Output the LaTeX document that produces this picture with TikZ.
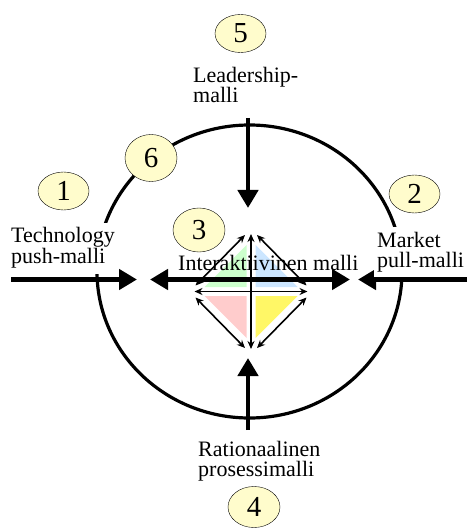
\documentclass[tikz,border=0pt]{standalone}
\usepackage{fontspec}
\setmainfont{Liberation Serif}
\usetikzlibrary{arrows.meta, calc, shapes.geometric}
\definecolor{vsin}{HTML}{CCE6FF}

\begin{document}
\begin{tikzpicture}[x=1pt, y=-1pt, every node/.style={font=\fontsize{22}{20}\selectfont},
    nro/.style={ellipse, draw, thin, fill=yellow!20, minimum width=51pt, minimum height=38pt, inner sep=0pt, font=\fontsize{29}{29}\selectfont},
    teksti/.style={align=left, anchor=north west, fill=white, inner xsep=3pt, inner ysep=5pt},
    iso/.style={-{Triangle[length=18pt, width=20pt]}, line width=4.5pt},
    iso2/.style={{Triangle[length=18pt, width=20pt]}-{Triangle[length=18pt, width=20pt]}, line width=4.5pt},
    ohut/.style={{Stealth[length=8pt, width=7pt]}-{Stealth[length=8pt, width=7pt]}, line width=1.6pt}]
                \useasboundingbox (0,0) rectangle (467,529);
                % Keskus
                \coordinate (c) at (251,291.5);
                \coordinate (dt) at (251,234);
                \coordinate (db) at (251,349);
                \coordinate (dl) at (194.5,291.5);
                \coordinate (dr) at (307.5,291.5);
                % Kolmiot
                \fill[green!20] ($(c)+(-4.5,-4.5)$) -- ++(0,-42) -- ++(-42,42) -- cycle;
                \fill[vsin] ($(c)+(4.5,-4.5)$) -- ++(0,-42) -- ++(42,42) -- cycle;
                \fill[red!20] ($(c)+(-4.5,4.5)$) -- ++(0,42) -- ++(-42,-42) -- cycle;
                \fill[yellow!60] ($(c)+(4.5,4.5)$) -- ++(0,42) -- ++(42,-42) -- cycle;
                % Kehä
                \node[ellipse, draw, line width=3.2pt, minimum width=305pt, minimum height=293pt, inner sep=0pt] (kehys) at (249.5,271.5) {};
                % Ohuet nuolet
                \draw[ohut] (dt) -- (db);
                \draw[ohut] (dl) -- (dr);
                \draw[ohut] ($(dl)+(1,-6)$) -- ($(dt)+(-6,1)$);
                \draw[ohut] ($(dt)+(6,1)$) -- ($(dr)+(-1,-6)$);
                \draw[ohut] ($(dl)+(1,6)$) -- ($(db)+(-6,-1)$);
                \draw[ohut] ($(db)+(6,-1)$) -- ($(dr)+(-1,6)$);
                % Paksut nuolet
                \coordinate (t1) at (248,118);
                \coordinate (t2) at (248,208);
                \coordinate (b1) at (248,430);
                \coordinate (b2) at (248,358);
                \coordinate (l1) at (11,279.5);
                \coordinate (l2) at (137,279.5);
                \coordinate (r1) at (467,279.5);
                \coordinate (r2) at (358,279.5);
                \coordinate (m1) at (150,279.5);
                \coordinate (m2) at (350,279.5);
                \draw[iso] (t1) -- (t2);
                \draw[iso] (b1) -- (b2);
                \draw[iso] (l1) -- (l2);
                \draw[iso] (r1) -- (r2);
                \draw[iso2] (m1) -- (m2);
                % Tekstit
                \node[teksti] (lead) at (190,62.5) {Leadership-\\malli};
                \node[teksti] (tech) at (8,222.5) {Technology\\push-malli};
                \node[teksti] (mark) at (374,227) {Market\\pull-malli};
                \node[teksti] (rat) at (195,436) {Rationaalinen\\prosessimalli};
                \node[anchor=base west, inner sep=0pt] (inter) at (178,270) {Interaktiivinen malli};
                % Numerot
                \node[nro] (n5) at (240.5,33.5) {5};
                \node[nro, minimum height=47pt, minimum width=52pt] (n6) at (151,158) {6};
                \node[nro] (n1) at (63.5,191) {1};
                \node[nro] (n2) at (414.5,194) {2};
                \node[nro, minimum height=44pt, minimum width=52pt] (n3) at (199,230) {3};
                \node[nro, minimum height=41pt, minimum width=52pt] (n4) at (254,507) {4};
            \end{tikzpicture}
\end{document}
